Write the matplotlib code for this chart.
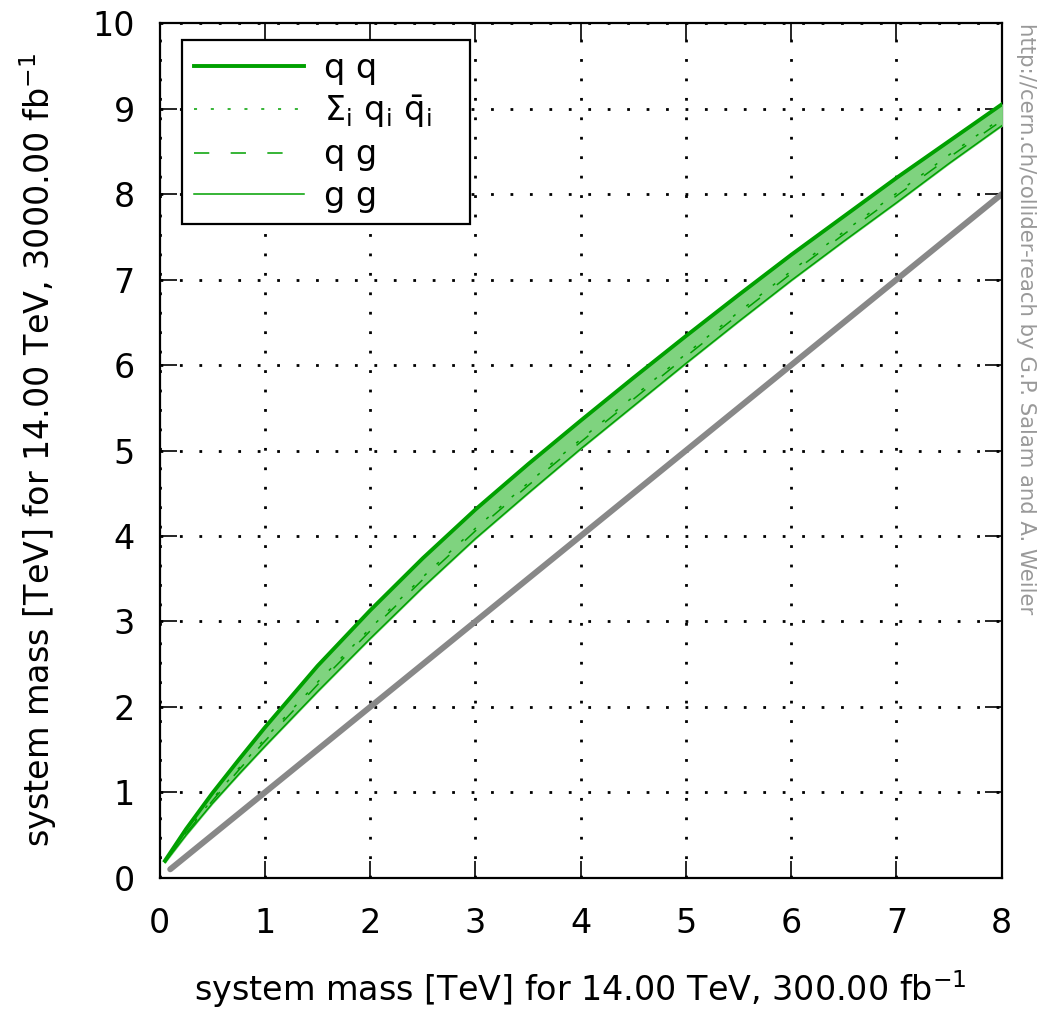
import matplotlib.pyplot as plt

# curve data
x = [0.05, 0.25, 0.5, 0.75, 1.0, 1.5, 2.0, 2.5, 3.0, 3.5, 4.0, 4.5, 5.0, 5.5, 6.0, 6.5, 7.0, 7.5, 8.0]
qq = [0.2, 0.57, 0.99, 1.38, 1.76, 2.48, 3.13, 3.74, 4.31, 4.84, 5.35, 5.85, 6.34, 6.82, 7.29, 7.74, 8.19, 8.62, 9.05]
qqbar = [0.19, 0.53, 0.92, 1.28, 1.63, 2.29, 2.92, 3.52, 4.09, 4.62, 5.13, 5.63, 6.13, 6.62, 7.1, 7.56, 8.01, 8.46, 8.89]
qg = [0.19, 0.52, 0.9, 1.26, 1.6, 2.26, 2.89, 3.49, 4.06, 4.59, 5.1, 5.6, 6.1, 6.59, 7.07, 7.53, 7.98, 8.43, 8.86]
gg = [0.18, 0.5, 0.87, 1.21, 1.54, 2.18, 2.8, 3.4, 3.97, 4.5, 5.02, 5.52, 6.02, 6.51, 6.99, 7.45, 7.9, 8.36, 8.8]
diag_x = [0.1, 8.0]
diag_y = [0.1, 8.0]

green = '#00a000'

fig = plt.figure(figsize=(10.37, 10.09), dpi=100)
ax = fig.add_axes([0.154, 0.130, 0.812, 0.847])

ax.plot(diag_x, diag_y, color='#888888', lw=4.3, solid_capstyle='round', zorder=2)
ax.fill_between(x, gg, qq, color='#7fd37f', zorder=3)
ax.plot(x, qq, color=green, lw=2.8, label='q q', zorder=4)
ax.plot(x, qqbar, color=green, lw=1.1, ls=(0, (2, 9)), label=r'$\Sigma_\mathregular{i}\ \mathregular{q_i\ \bar{q}_i}$', zorder=4)
ax.plot(x, qg, color=green, lw=1.1, ls=(0, (10, 14)), label='q g', zorder=4)
ax.plot(x, gg, color=green, lw=1.1, label='g g', zorder=4)

ax.set_xlim(0, 8)
ax.set_ylim(0, 10)
ax.set_xticks(range(0, 9))
ax.set_yticks(range(0, 11))
ax.grid(True, color='black', ls=(0, (1, 6)), lw=2)
ax.tick_params(direction='in', length=12, width=1.2, top=True, right=True, labelsize=24)
ax.tick_params(axis='x', pad=21)
ax.tick_params(axis='y', pad=18)
for s in ax.spines.values():
    s.set_linewidth(1.6)

ax.set_xlabel('system mass [TeV] for 14.00 TeV, 300.00 fb$^{-1}$', fontsize=24, labelpad=20)
ax.set_ylabel('system mass [TeV] for 14.00 TeV, 3000.00 fb$^{-1}$', fontsize=24, labelpad=24)

leg = ax.legend(loc='upper left', bbox_to_anchor=(0.027, 0.764, 0.341, 0.216), mode='expand',
                borderaxespad=0, fontsize=24, handlelength=3.3, handletextpad=0.6,
                frameon=True, fancybox=False, framealpha=1, edgecolor='black', labelspacing=0.25,
                borderpad=0.35)
leg.get_frame().set_linewidth(1.6)

fig.text(0.989, 0.977, 'http://cern.ch/collider-reach by G.P. Salam and A. Weiler',
         rotation=-90, ha='center', va='top', fontsize=15.3, color='#999999')

fig.savefig('out.png', dpi=100)
